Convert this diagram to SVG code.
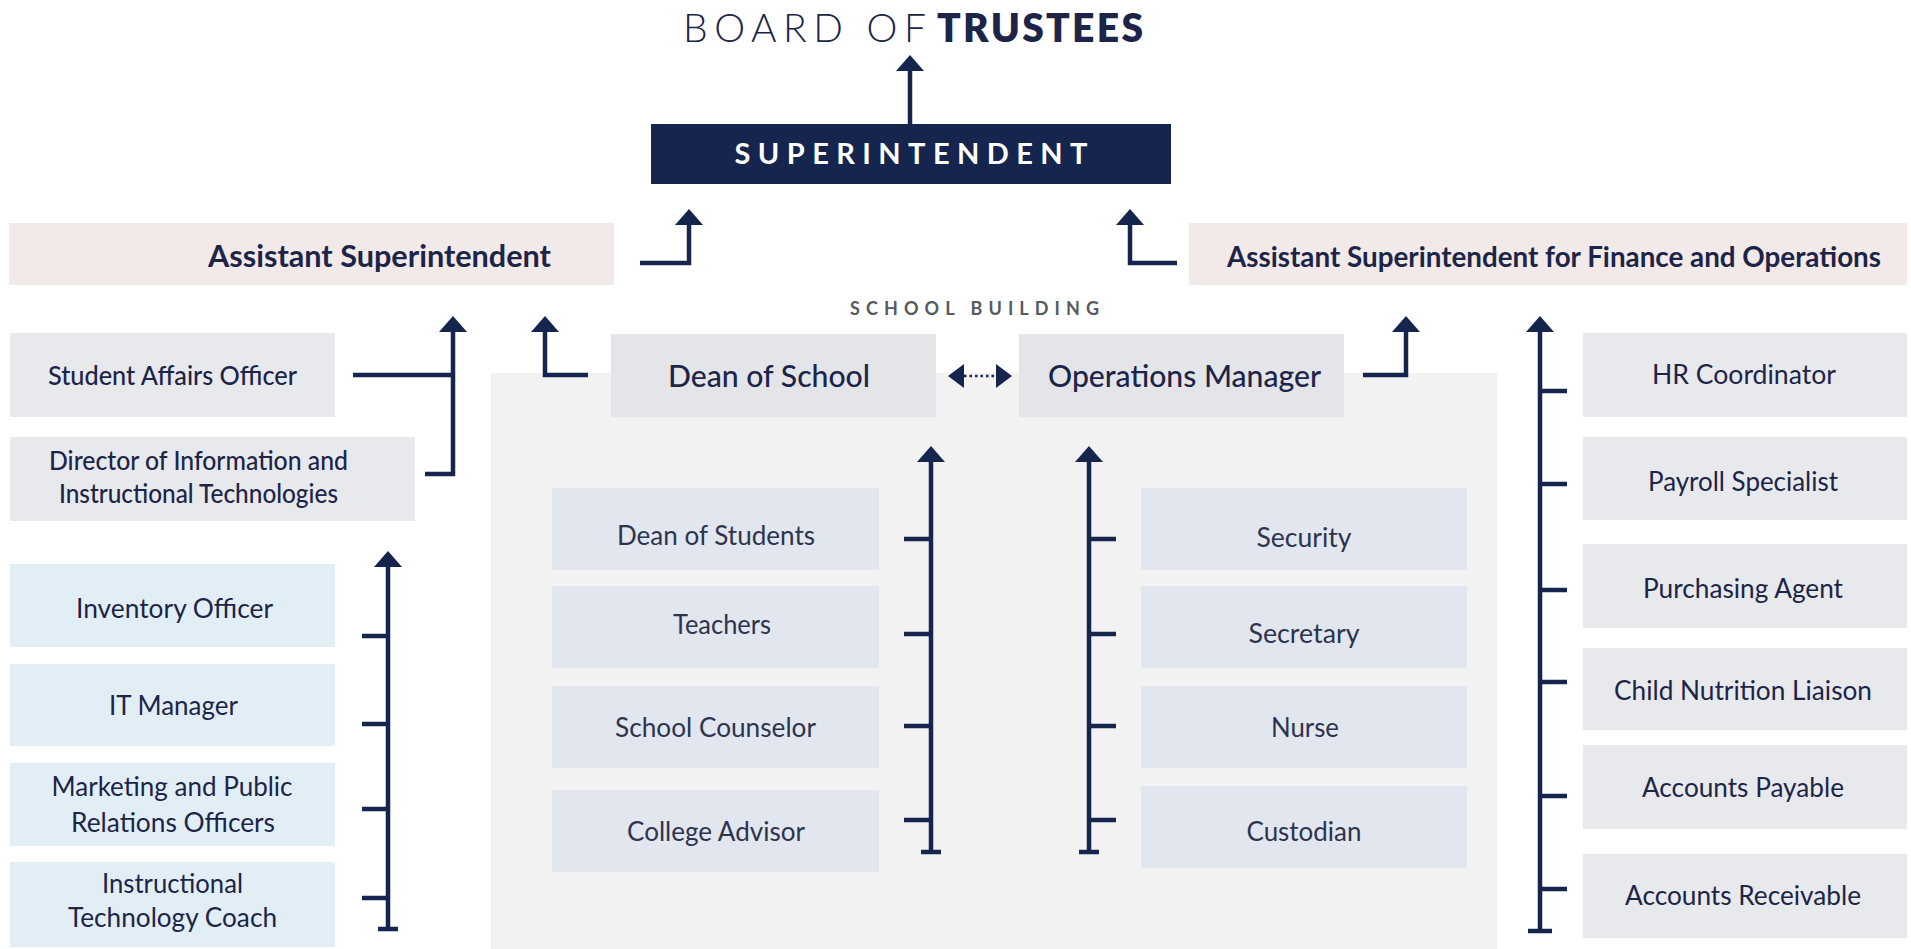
<svg xmlns="http://www.w3.org/2000/svg" width="1911" height="949" viewBox="0 0 1911 949">
<defs>
<style>
text{font-family:Lato,"Liberation Sans",sans-serif;fill:#1c2548}
.ln{stroke:#15254d;stroke-width:4.5;fill:none}
.dot{stroke:#15254d;stroke-width:2.5;fill:none;stroke-dasharray:2.5 3}
.pink{fill:#f2e9e9}
.grey{fill:#e8e9ec}
.gdk{fill:#e4e5e9}
.inner{fill:#e2e6ee}
.blue{fill:#e2eef6}
.t27{font-size:27px;font-weight:400}
.t26{font-size:26px;font-weight:500}
.t31{font-size:31px;font-weight:500}
.c{text-anchor:middle}
.mid{fill:#2d3450}
</style>
<marker id="ah" viewBox="0 0 16 28" refX="0" refY="14" markerWidth="16" markerHeight="28" markerUnits="userSpaceOnUse" orient="auto"><path d="M0,0L16,14L0,28Z" fill="#15254d"/></marker>
<marker id="ahs" viewBox="0 0 16 24" refX="0" refY="12" markerWidth="16" markerHeight="24" markerUnits="userSpaceOnUse" orient="auto-start-reverse"><path d="M0,0L16,12L0,24Z" fill="#15254d"/></marker>
</defs>
<rect width="1911" height="949" fill="#ffffff"/>

<g id="school-building">
<rect x="491" y="373" width="1006" height="576" fill="#f2f2f2"/>
<text x="974.5" y="315" class="c" font-size="18" font-weight="700" textLength="249" lengthAdjust="spacing" style="fill:#555a60">SCHOOL BUILDING</text>
</g>

<g id="board">
<text x="683" y="42" font-size="39" font-weight="300" textLength="243" lengthAdjust="spacing">BOARD OF</text>
<text x="937" y="42" font-size="39" font-weight="800" textLength="206" lengthAdjust="spacing">TRUSTEES</text>
</g>

<g id="superintendent">
<rect x="651" y="124" width="520" height="60" fill="#15254d"/>
<text x="911" y="164" class="c" font-size="29" font-weight="700" textLength="353" lengthAdjust="spacing" style="fill:#ffffff">SUPERINTENDENT</text>
</g>

<g id="asst-supt">
<rect x="9" y="223" width="605" height="62" class="pink"/>
<text x="379.5" y="267" class="c" font-size="30" font-weight="700" textLength="343" lengthAdjust="spacingAndGlyphs">Assistant Superintendent</text>
</g>

<g id="asst-supt-finance">
<rect x="1189" y="223" width="718" height="62" class="pink"/>
<text x="1554" y="267" class="c" font-size="28" font-weight="700" textLength="654" lengthAdjust="spacingAndGlyphs">Assistant Superintendent for Finance and Operations</text>
</g>

<g id="dean-of-school">
<rect x="611" y="334" width="325" height="83" class="gdk"/>
<text x="769" y="387" class="c t31" textLength="202" lengthAdjust="spacingAndGlyphs">Dean of School</text>
</g>

<g id="operations-manager">
<rect x="1019" y="334" width="325" height="83" class="gdk"/>
<text x="1184.5" y="387" class="c t31" textLength="273" lengthAdjust="spacingAndGlyphs">Operations Manager</text>
</g>

<g id="student-affairs">
<rect x="10" y="333" width="325" height="84" class="grey"/>
<text x="172.5" y="385" class="c t26" textLength="249" lengthAdjust="spacingAndGlyphs">Student Affairs Officer</text>
</g>

<g id="director-tech">
<rect x="10" y="437" width="405" height="84" class="grey"/>
<text x="198.5" y="470" class="c t26" textLength="299" lengthAdjust="spacingAndGlyphs">Director of Information and</text>
<text x="198.5" y="503" class="c t26" textLength="279" lengthAdjust="spacingAndGlyphs">Instructional Technologies</text>
</g>

<g id="inventory-officer">
<rect x="10" y="564" width="325" height="83" class="blue"/>
<text x="174.5" y="618" class="c t27" textLength="197" lengthAdjust="spacingAndGlyphs">Inventory Officer</text>
</g>
<g id="it-manager">
<rect x="10" y="664" width="325" height="82" class="blue"/>
<text x="173.5" y="715" class="c t27" textLength="129" lengthAdjust="spacingAndGlyphs">IT Manager</text>
</g>
<g id="marketing">
<rect x="10" y="763" width="325" height="83" class="blue"/>
<text x="172" y="796" class="c t27" textLength="241" lengthAdjust="spacingAndGlyphs">Marketing and Public</text>
<text x="173" y="832" class="c t27" textLength="204" lengthAdjust="spacingAndGlyphs">Relations Officers</text>
</g>
<g id="tech-coach">
<rect x="10" y="862" width="325" height="85" class="blue"/>
<text x="172.5" y="893" class="c t27" textLength="141" lengthAdjust="spacingAndGlyphs">Instructional</text>
<text x="172.5" y="927" class="c t27" textLength="209" lengthAdjust="spacingAndGlyphs">Technology Coach</text>
</g>

<g id="dean-of-students">
<rect x="552" y="488" width="327" height="82" class="inner"/>
<text x="716" y="545" class="c t27 mid" textLength="198" lengthAdjust="spacingAndGlyphs">Dean of Students</text>
</g>
<g id="teachers">
<rect x="552" y="586" width="327" height="82" class="inner"/>
<text x="722" y="634" class="c t27 mid" textLength="98" lengthAdjust="spacingAndGlyphs">Teachers</text>
</g>
<g id="school-counselor">
<rect x="552" y="686" width="327" height="82" class="inner"/>
<text x="715.5" y="737" class="c t27 mid" textLength="201" lengthAdjust="spacingAndGlyphs">School Counselor</text>
</g>
<g id="college-advisor">
<rect x="552" y="790" width="327" height="82" class="inner"/>
<text x="716" y="841" class="c t27 mid" textLength="178" lengthAdjust="spacingAndGlyphs">College Advisor</text>
</g>

<g id="security">
<rect x="1141" y="488" width="326" height="82" class="inner"/>
<text x="1304" y="547" class="c t27 mid" textLength="95" lengthAdjust="spacingAndGlyphs">Security</text>
</g>
<g id="secretary">
<rect x="1141" y="586" width="326" height="82" class="inner"/>
<text x="1304" y="643" class="c t27 mid" textLength="111" lengthAdjust="spacingAndGlyphs">Secretary</text>
</g>
<g id="nurse">
<rect x="1141" y="686" width="326" height="82" class="inner"/>
<text x="1305" y="737" class="c t27 mid" textLength="68" lengthAdjust="spacingAndGlyphs">Nurse</text>
</g>
<g id="custodian">
<rect x="1141" y="786" width="326" height="82" class="inner"/>
<text x="1304" y="841" class="c t27 mid" textLength="115" lengthAdjust="spacingAndGlyphs">Custodian</text>
</g>

<g id="hr-coordinator">
<rect x="1583" y="333" width="324" height="84" class="grey"/>
<text x="1744" y="384" class="c t27" textLength="184" lengthAdjust="spacingAndGlyphs">HR Coordinator</text>
</g>
<g id="payroll-specialist">
<rect x="1583" y="437" width="324" height="83" class="grey"/>
<text x="1743" y="491" class="c t27" textLength="190" lengthAdjust="spacingAndGlyphs">Payroll Specialist</text>
</g>
<g id="purchasing-agent">
<rect x="1583" y="544" width="324" height="84" class="grey"/>
<text x="1743" y="598" class="c t27" textLength="200" lengthAdjust="spacingAndGlyphs">Purchasing Agent</text>
</g>
<g id="child-nutrition">
<rect x="1583" y="648" width="324" height="82" class="grey"/>
<text x="1743" y="700" class="c t27" textLength="258" lengthAdjust="spacingAndGlyphs">Child Nutrition Liaison</text>
</g>
<g id="accounts-payable">
<rect x="1583" y="745" width="324" height="84" class="grey"/>
<text x="1743" y="797" class="c t27" textLength="202" lengthAdjust="spacingAndGlyphs">Accounts Payable</text>
</g>
<g id="accounts-receivable">
<rect x="1583" y="854" width="324" height="84" class="grey"/>
<text x="1743" y="905" class="c t27" textLength="236" lengthAdjust="spacingAndGlyphs">Accounts Receivable</text>
</g>

<g id="connectors">
<path class="ln" d="M910,124V71" marker-end="url(#ah)"/>
<path class="ln" d="M640,263H689V225" marker-end="url(#ah)"/>
<path class="ln" d="M1177,263H1130V225" marker-end="url(#ah)"/>
<path class="ln" d="M353,375H453"/>
<path class="ln" d="M425,474H453V332" marker-end="url(#ah)"/>
<path class="ln" d="M588,375H545V332" marker-end="url(#ah)"/>
<path class="ln" d="M1363,375H1406V332" marker-end="url(#ah)"/>
<path class="dot" d="M964,376H996" marker-start="url(#ahs)" marker-end="url(#ahs)"/>

<path class="ln" d="M388,929V567" marker-end="url(#ah)"/>
<path class="ln" d="M378,929H398M362,636H388M362,724H388M362,809H388M362,898H388"/>

<path class="ln" d="M931,852V462" marker-end="url(#ah)"/>
<path class="ln" d="M921,852H941M904,539H931M904,634H931M904,726H931M904,820H931"/>

<path class="ln" d="M1089,852V462" marker-end="url(#ah)"/>
<path class="ln" d="M1079,852H1099M1089,539H1116M1089,634H1116M1089,726H1116M1089,820H1116"/>

<path class="ln" d="M1540,931V332" marker-end="url(#ah)"/>
<path class="ln" d="M1528,931H1552M1540,391H1567M1540,484H1567M1540,590H1567M1540,682H1567M1540,796H1567M1540,889H1567"/>
</g>
</svg>
